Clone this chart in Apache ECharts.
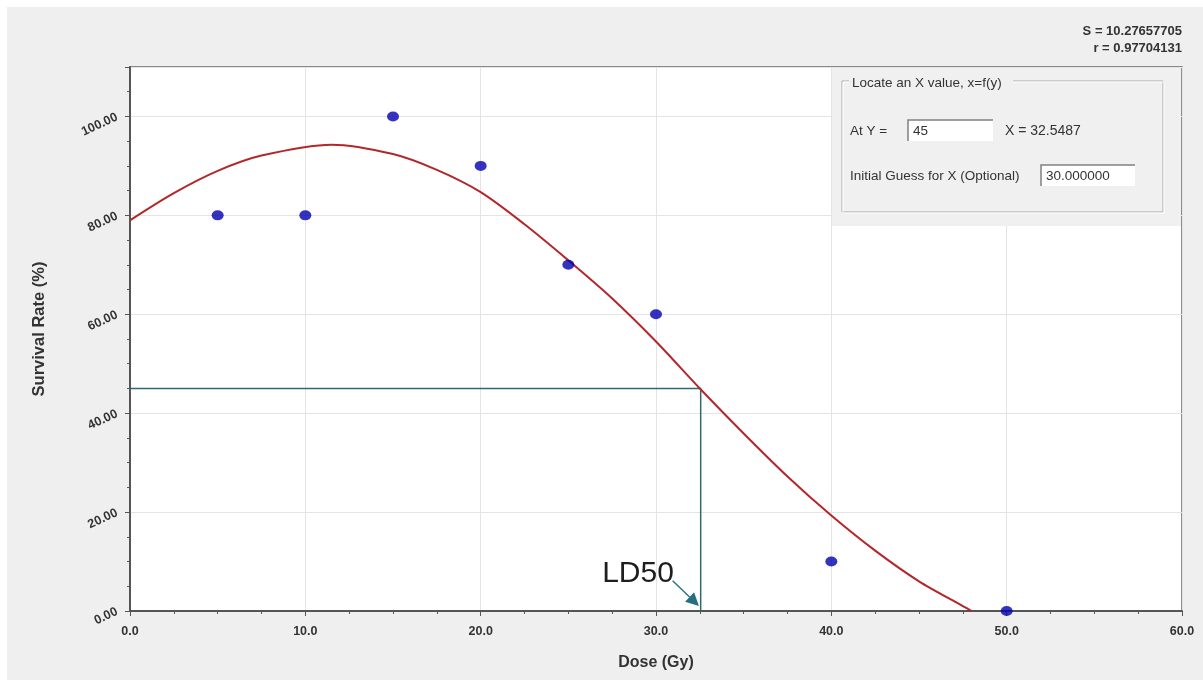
<!DOCTYPE html>
<html>
<head>
<meta charset="utf-8">
<script src="https://cdn.jsdelivr.net/npm/echarts@6/dist/echarts.min.js"></script>
<style>
html,body{margin:0;padding:0;background:#ffffff;}
#c{width:1203px;height:680px;}
</style>
</head>
<body>
<div id="c"></div>
<script>
// Observed data points
var doseX = [5, 10, 15, 20, 25, 30, 40, 50];
var survivalY = [80, 80, 100, 90, 70, 60, 10, 0];
// Fitted curve
var curveX = [0, 2.5, 5, 7.5, 11.5, 15, 17.5, 20, 22.5, 25, 27.5, 30, 32.5, 35, 37.5, 40, 42.5, 45, 47.5, 48];
var curveY = [79, 84.5, 89, 92.1, 94.3, 92.4, 89.2, 84.7, 78.2, 70.9, 63.2, 54.5, 45, 35.9, 27.2, 19.3, 12.2, 6, 1, 0];
// LD50 guide
var ld50Y = 45;
var ld50X = 32.5487;
// LD50 arrow (start near the label, tip at the axis)
var arrowFrom = [30.95, 6.1];
var arrowTo = [32.45, 1.0];

var FONT = "'Liberation Sans', Arial, sans-serif";
var chart = echarts.init(document.getElementById('c'));

var pts = doseX.map(function (x, i) { return [x, survivalY[i]]; });
var curve = curveX.map(function (x, i) { return [x, curveY[i]]; });
var guide = [[0, ld50Y], [ld50X, ld50Y], [ld50X, 0]];

var staticGraphics = [
  // outer frame
  { type: 'rect', z: -10, silent: true, shape: { x: 7, y: 7, width: 1196, height: 673 }, style: { fill: '#efefef' } },
  // fit statistics
  { type: 'text', z: 100, style: { text: 'S = 10.27657705', x: 1182, y: 31, align: 'right', verticalAlign: 'middle', fontFamily: FONT, fontWeight: 'bold', fontSize: 13, fill: '#333' } },
  { type: 'text', z: 100, style: { text: 'r = 0.97704131', x: 1182, y: 48, align: 'right', verticalAlign: 'middle', fontFamily: FONT, fontWeight: 'bold', fontSize: 13, fill: '#333' } },
  // Locate panel
  { type: 'rect', z: 100, shape: { x: 832, y: 68, width: 349, height: 158 }, style: { fill: '#f0f0f0', stroke: null } },
  { type: 'rect', z: 101, shape: { x: 842, y: 81, width: 321, height: 131 }, style: { fill: null, stroke: '#a8a8a8', lineWidth: 1 } },
  { type: 'rect', z: 101, shape: { x: 843, y: 82, width: 321, height: 131 }, style: { fill: null, stroke: '#ffffff', lineWidth: 1 } },
  { type: 'rect', z: 102, shape: { x: 849, y: 74, width: 164, height: 14 }, style: { fill: '#f0f0f0' } },
  { type: 'text', z: 103, style: { text: 'Locate an X value, x=f(y)', x: 852, y: 83, verticalAlign: 'middle', fontFamily: FONT, fontSize: 13.5, fill: '#333' } },
  { type: 'text', z: 103, style: { text: 'At Y =', x: 850, y: 131, verticalAlign: 'middle', fontFamily: FONT, fontSize: 13.5, fill: '#333' } },
  { type: 'rect', z: 102, shape: { x: 908, y: 120, width: 85, height: 21 }, style: { fill: '#ffffff', stroke: null } },
  { type: 'polyline', z: 103, shape: { points: [[908, 141], [908, 120], [993, 120]] }, style: { stroke: '#808080', lineWidth: 1.5, fill: null } },
  { type: 'text', z: 103, style: { text: '45', x: 913, y: 131, verticalAlign: 'middle', fontFamily: FONT, fontSize: 13.5, fill: '#333' } },
  { type: 'text', z: 103, style: { text: 'X = 32.5487', x: 1005, y: 131, verticalAlign: 'middle', fontFamily: FONT, fontSize: 14, fill: '#333' } },
  { type: 'text', z: 103, style: { text: 'Initial Guess for X (Optional)', x: 850, y: 176, verticalAlign: 'middle', fontFamily: FONT, fontSize: 13.5, fill: '#333' } },
  { type: 'rect', z: 102, shape: { x: 1041, y: 165, width: 94, height: 21 }, style: { fill: '#ffffff', stroke: null } },
  { type: 'polyline', z: 103, shape: { points: [[1041, 186], [1041, 165], [1135, 165]] }, style: { stroke: '#808080', lineWidth: 1.5, fill: null } },
  { type: 'text', z: 103, style: { text: '30.000000', x: 1046, y: 176, verticalAlign: 'middle', fontFamily: FONT, fontSize: 13.5, fill: '#333' } },
  // LD50 annotation
  { type: 'text', z: 50, style: { text: 'LD50', x: 638, y: 574, align: 'center', verticalAlign: 'middle', fontFamily: FONT, fontSize: 30, fill: '#1e1e1e' } }
];

var option = {
  backgroundColor: '#ffffff',
  animation: false,
  grid: {
    left: 130, top: 67, right: 21, bottom: 69,
    show: true, backgroundColor: '#ffffff', borderColor: '#6a6a6a', borderWidth: 1.5
  },
  xAxis: {
    type: 'value', min: 0, max: 60, interval: 10,
    name: 'Dose (Gy)', nameLocation: 'middle', nameGap: 44,
    nameTextStyle: { fontFamily: FONT, fontWeight: 'bold', fontSize: 16, color: '#333' },
    axisLine: { show: true, lineStyle: { color: '#555', width: 2 } },
    axisTick: { show: true, length: 5, lineStyle: { color: '#555' } },
    minorTick: { show: true, splitNumber: 4, length: 3, lineStyle: { color: '#555' } },
    axisLabel: {
      fontFamily: FONT, fontWeight: 'bold', fontSize: 12.5, color: '#333', margin: 14,
      formatter: function (v) { return v.toFixed(1); }
    },
    splitLine: { show: true, lineStyle: { color: '#e4e4e4', width: 1 } }
  },
  yAxis: {
    type: 'value', min: 0, max: 110, interval: 20,
    name: 'Survival Rate (%)', nameLocation: 'middle', nameGap: 82,
    nameTextStyle: { fontFamily: FONT, fontWeight: 'bold', fontSize: 16.5, color: '#333', padding: [0, 0, 0, 20] },
    axisLine: { show: true, lineStyle: { color: '#555', width: 2 } },
    axisTick: { show: true, length: 5, lineStyle: { color: '#555' } },
    minorTick: { show: true, splitNumber: 4, length: 3, lineStyle: { color: '#555' } },
    axisLabel: {
      fontFamily: FONT, fontWeight: 'bold', fontSize: 12.5, color: '#333', margin: 13, rotate: 25,
      showMaxLabel: false,
      formatter: function (v) { return v > 100 ? '' : v.toFixed(2); }
    },
    splitLine: { show: true, lineStyle: { color: '#e4e4e4', width: 1 } }
  },
  series: [
    {
      type: 'line', data: guide, symbol: 'none', z: 2,
      lineStyle: { color: '#2f6870', width: 1.5 }
    },
    {
      type: 'line', data: curve, symbol: 'none', smooth: 0.3, z: 3,
      lineStyle: { color: '#b3272b', width: 2 }
    },
    {
      type: 'scatter', data: pts, symbol: 'circle', symbolSize: [12, 10], z: 4,
      itemStyle: { color: '#0000b0' }
    }
  ],
  graphic: staticGraphics
};
chart.setOption(option);

// Arrow from the LD50 label to the axis, placed through the chart's own scales
var pFrom = chart.convertToPixel({ gridIndex: 0 }, arrowFrom);
var pTo = chart.convertToPixel({ gridIndex: 0 }, arrowTo);
var dx = pTo[0] - pFrom[0], dy = pTo[1] - pFrom[1];
var len = Math.sqrt(dx * dx + dy * dy);
var ux = dx / len, uy = dy / len;
var headL = 13, headW = 6.5;
var base = [pTo[0] - ux * headL, pTo[1] - uy * headL];
var arrowGraphics = staticGraphics.concat([
  { type: 'line', z: 60, shape: { x1: pFrom[0], y1: pFrom[1], x2: base[0], y2: base[1] }, style: { stroke: '#2b7585', lineWidth: 1.5 } },
  { type: 'polygon', z: 60, shape: { points: [pTo, [base[0] - uy * headW, base[1] + ux * headW], [base[0] + uy * headW, base[1] - ux * headW]] }, style: { fill: '#236f80' } }
]);
chart.setOption({ graphic: arrowGraphics }, { replaceMerge: ['graphic'] });
</script>
</body>
</html>
